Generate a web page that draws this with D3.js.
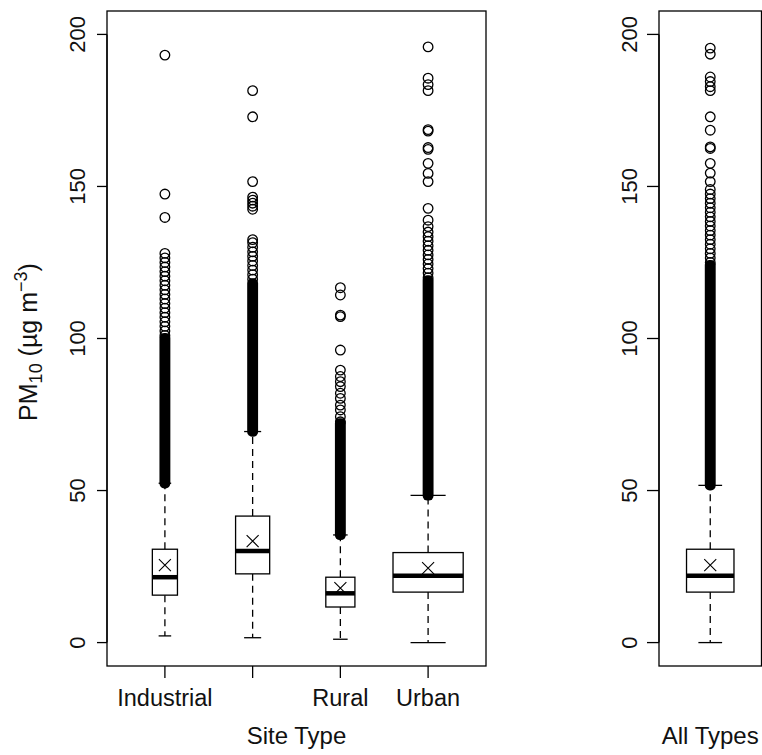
<!DOCTYPE html>
<html><head><meta charset="utf-8">
<script src="https://cdn.jsdelivr.net/npm/d3@7"></script>
<style>
body{margin:0;background:#fff}
svg{display:block}
text{font-family:"Liberation Sans",Arial,sans-serif;fill:#111}
</style>
</head><body><svg id="c" width="762" height="755"></svg>
<script>
// ---------- data ----------
const categories = ["Industrial", "Suburban", "Rural", "Urban"];
const tickLabels = ["Industrial", "", "Rural", "Urban"];   // 2nd label dropped (overlap) in the original
const relativeN = [0.128, 0.236, 0.172, 1.0];               // relative sample sizes (varwidth boxes)
const lowerWhisker = [2.2, 1.6, 1.1, 0.0];
const q1 = [15.6, 22.6, 11.7, 16.6];
const median = [21.5, 30.1, 16.2, 22.0];
const q3 = [30.7, 41.6, 21.5, 29.6];
const upperWhisker = [52.4, 69.4, 35.4, 48.4];
const mean = [25.5, 33.4, 17.9, 24.5];
// ranges where outliers are so dense they merge into a solid column
const denseOutlierRange = [[52.5, 100], [69.5, 118], [35.5, 72], [48.5, 119]];
const outliersIndustrial = [101, 102.5, 104, 105.5, 107, 108.5, 110, 111.5, 113, 114.5, 116, 117.5, 119, 120.5, 122, 123.5, 125, 126.5, 128, 139.8, 147.5, 193.2];
const outliersSuburban = [119.5, 121, 122.5, 124, 125.5, 127, 128.5, 130, 131.5, 132.5, 142.5, 143.5, 144.5, 145.5, 146.5, 151.6, 172.9, 181.5];
const outliersRural = [72.6, 74.3, 76.5, 78.1, 80.3, 82.0, 84.2, 85.8, 87.5, 89.6, 96.2, 107.2, 107.7, 114.3, 116.7];
const outliersUrban = [120, 121.5, 123, 124.5, 126, 127.5, 129, 130.5, 132, 133.5, 135, 136.8, 138.9, 142.8, 151.6, 154.3, 157.6, 162.2, 162.8, 168.2, 168.7, 181.5, 183.5, 185.6, 195.9];

const allLabel = "All Types";
const allLower = 0.0, allQ1 = 16.6, allMedian = 22.0, allQ3 = 30.7, allUpper = 51.7, allMean = 25.5;
const allDenseRange = [51.8, 124];
const allOutliers = [125, 126.5, 128, 129.5, 131, 132.5, 134, 135.5, 137, 138.5, 140, 141.5, 143, 144.5, 146, 147.5, 149, 151.6, 154.4, 157.6, 162.5, 163, 168.5, 172.9, 181.5, 182.8, 184.5, 186, 193.5, 195.5];

const yTicks = [0, 50, 100, 150, 200];
const yTitle = {main: "PM", sub: "10", mid: " (µg m", sup: "−3", end: ")"};
const xTitle = "Site Type";

// ---------- drawing ----------
const svg = d3.select("#c");
svg.append("rect").attr("width", 762).attr("height", 755).attr("fill", "#fff");

const plotTop = 11, plotBottom = 666;
const y = d3.scaleLinear().domain([-7.7, 207.7]).range([plotBottom, plotTop]);

const left = {x0: 107, x1: 486};
const right = {x0: 659, x1: 761.5};
const xL = d3.scaleLinear().domain([0.34, 4.66]).range([left.x0, left.x1]);
const xR = d3.scaleLinear().domain([0.46, 1.54]).range([right.x0, right.x1]);

const R = 4.8, LW = 1.3;
const groups = categories.map((c, i) => ({
  name: c, pos: i + 1, width: 0.8 * Math.sqrt(relativeN[i]),
  lo: lowerWhisker[i], q1: q1[i], med: median[i], q3: q3[i], hi: upperWhisker[i], mean: mean[i],
  dense: denseOutlierRange[i],
  out: [outliersIndustrial, outliersSuburban, outliersRural, outliersUrban][i]
}));
const allGroup = {name: allLabel, pos: 1, width: 0.5, lo: allLower, q1: allQ1, med: allMedian,
  q3: allQ3, hi: allUpper, mean: allMean, dense: allDenseRange, out: allOutliers};

function drawBox(g, d, x) {
  const cx = x(d.pos);
  const half = (x(d.pos + d.width / 2) - x(d.pos - d.width / 2)) / 2;
  const gg = g.append("g");
  // whiskers
  [[d.q3, d.hi], [d.q1, d.lo]].forEach(([a, b]) => {
    gg.append("line").attr("x1", cx).attr("x2", cx).attr("y1", y(a)).attr("y2", y(b))
      .attr("stroke", "#000").attr("stroke-width", LW).attr("stroke-dasharray", "7,5");
  });
  // staples
  [d.hi, d.lo].forEach(v => {
    gg.append("line").attr("x1", cx - half / 2).attr("x2", cx + half / 2).attr("y1", y(v)).attr("y2", y(v))
      .attr("stroke", "#000").attr("stroke-width", LW);
  });
  // box
  gg.append("rect").attr("x", cx - half).attr("width", 2 * half)
    .attr("y", y(d.q3)).attr("height", y(d.q1) - y(d.q3))
    .attr("fill", "#fff").attr("stroke", "#000").attr("stroke-width", LW);
  // median
  gg.append("line").attr("x1", cx - half).attr("x2", cx + half).attr("y1", y(d.med)).attr("y2", y(d.med))
    .attr("stroke", "#000").attr("stroke-width", 4.5);
  // dense outliers: solid column of merged circles
  gg.append("rect").attr("x", cx - R - LW / 2).attr("width", 2 * R + LW)
    .attr("y", y(d.dense[1]) - R - LW / 2).attr("height", y(d.dense[0]) - y(d.dense[1]) + 2 * R + LW)
    .attr("rx", R).attr("fill", "#000");
  // outliers
  gg.selectAll("circle.o").data(d.out).enter().append("circle").attr("class", "o")
    .attr("cx", cx).attr("cy", v => y(v)).attr("r", R)
    .attr("fill", "none").attr("stroke", "#000").attr("stroke-width", LW);
  // mean (x)
  const m = 6, my = y(d.mean);
  gg.append("path").attr("d", `M${cx - m},${my - m}L${cx + m},${my + m}M${cx - m},${my + m}L${cx + m},${my - m}`)
    .attr("stroke", "#000").attr("stroke-width", 1.1).attr("fill", "none");
}

function drawFrame(p) {
  svg.append("rect").attr("x", p.x0).attr("y", plotTop).attr("width", p.x1 - p.x0).attr("height", plotBottom - plotTop)
    .attr("fill", "none").attr("stroke", "#000").attr("stroke-width", LW);
}

function drawYAxis(p, labelX, tickLen) {
  const g = svg.append("g");
  yTicks.forEach(t => {
    g.append("line").attr("x1", p.x0 - tickLen).attr("x2", p.x0).attr("y1", y(t)).attr("y2", y(t))
      .attr("stroke", "#000").attr("stroke-width", LW);
    g.append("text").attr("transform", `translate(${labelX},${y(t)}) rotate(-90)`)
      .attr("text-anchor", "middle").attr("font-size", 22).text(t);
  });
  g.append("line").attr("x1", p.x0).attr("x2", p.x0).attr("y1", y(yTicks[0])).attr("y2", y(yTicks[yTicks.length - 1]))
    .attr("stroke", "#000").attr("stroke-width", LW);
}

// left panel
const gl = svg.append("g");
groups.forEach(d => drawBox(gl, d, xL));
drawFrame(left);
drawYAxis(left, 85, 10);
groups.forEach((d, i) => {
  svg.append("line").attr("x1", xL(d.pos)).attr("x2", xL(d.pos)).attr("y1", plotBottom).attr("y2", plotBottom + 12)
    .attr("stroke", "#000").attr("stroke-width", LW);
  svg.append("text").attr("x", xL(d.pos)).attr("y", 706).attr("text-anchor", "middle")
    .attr("font-size", 23.5).text(tickLabels[i]);
});
svg.append("text").attr("x", (left.x0 + left.x1) / 2).attr("y", 744).attr("text-anchor", "middle")
  .attr("font-size", 24).text(xTitle);
const yt = svg.append("text").attr("transform", `translate(37,342) rotate(-90)`)
  .attr("text-anchor", "middle").attr("font-size", 25);
yt.append("tspan").text(yTitle.main);
yt.append("tspan").attr("font-size", 18).attr("dy", 5).text(yTitle.sub);
yt.append("tspan").attr("dy", -5).text(yTitle.mid);
yt.append("tspan").attr("font-size", 18).attr("dy", -10).text(yTitle.sup);
yt.append("tspan").attr("dy", 10).text(yTitle.end);

// right panel
const gr = svg.append("g");
drawBox(gr, allGroup, xR);
drawFrame(right);
drawYAxis(right, 637, 12);
svg.append("text").attr("x", xR(1)).attr("y", 744).attr("text-anchor", "middle")
  .attr("font-size", 24).text(allLabel);
</script>
</body></html>
